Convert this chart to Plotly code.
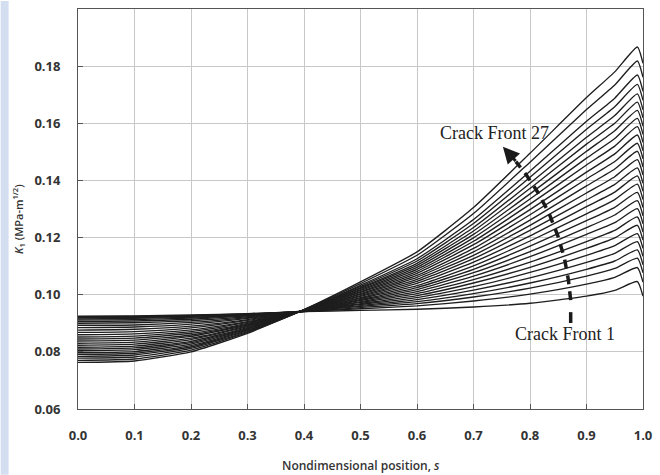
import plotly.graph_objects as go

# Nondimensional positions along the crack front
s_pos = [0.0, 0.1, 0.2, 0.3, 0.4, 0.5, 0.6, 0.7, 0.8, 0.9, 0.95, 0.99, 1.0]

# K1 (MPa-m^1/2) for each crack front
front_01 = [0.0925, 0.0926, 0.0929, 0.0934, 0.0941, 0.0945, 0.0949, 0.0957, 0.0970, 0.0995, 0.1015, 0.1046, 0.0995]
front_02 = [0.0923, 0.0924, 0.0927, 0.0933, 0.0941, 0.0951, 0.0961, 0.0978, 0.1002, 0.1037, 0.1061, 0.1095, 0.1044]
front_03 = [0.0921, 0.0922, 0.0926, 0.0932, 0.0941, 0.0955, 0.0969, 0.0992, 0.1023, 0.1065, 0.1092, 0.1128, 0.1077]
front_04 = [0.0919, 0.0920, 0.0924, 0.0931, 0.0942, 0.0959, 0.0976, 0.1004, 0.1041, 0.1089, 0.1118, 0.1157, 0.1105]
front_05 = [0.0915, 0.0917, 0.0921, 0.0930, 0.0942, 0.0962, 0.0983, 0.1016, 0.1059, 0.1113, 0.1145, 0.1186, 0.1134]
front_06 = [0.0911, 0.0913, 0.0918, 0.0928, 0.0942, 0.0966, 0.0990, 0.1028, 0.1078, 0.1138, 0.1172, 0.1214, 0.1162]
front_07 = [0.0906, 0.0908, 0.0914, 0.0926, 0.0942, 0.0969, 0.0997, 0.1041, 0.1096, 0.1162, 0.1199, 0.1243, 0.1191]
front_08 = [0.0900, 0.0902, 0.0909, 0.0923, 0.0943, 0.0973, 0.1004, 0.1053, 0.1114, 0.1186, 0.1225, 0.1272, 0.1219]
front_09 = [0.0893, 0.0894, 0.0903, 0.0920, 0.0943, 0.0976, 0.1011, 0.1065, 0.1133, 0.1211, 0.1252, 0.1301, 0.1248]
front_10 = [0.0885, 0.0887, 0.0897, 0.0917, 0.0943, 0.0980, 0.1018, 0.1077, 0.1151, 0.1235, 0.1279, 0.1329, 0.1276]
front_11 = [0.0876, 0.0879, 0.0890, 0.0913, 0.0943, 0.0983, 0.1025, 0.1089, 0.1170, 0.1259, 0.1306, 0.1358, 0.1305]
front_12 = [0.0868, 0.0871, 0.0884, 0.0910, 0.0944, 0.0987, 0.1032, 0.1101, 0.1188, 0.1283, 0.1333, 0.1387, 0.1333]
front_13 = [0.0860, 0.0863, 0.0877, 0.0906, 0.0944, 0.0990, 0.1040, 0.1114, 0.1206, 0.1308, 0.1359, 0.1416, 0.1362]
front_14 = [0.0852, 0.0855, 0.0871, 0.0903, 0.0944, 0.0994, 0.1047, 0.1126, 0.1225, 0.1332, 0.1386, 0.1444, 0.1390]
front_15 = [0.0845, 0.0848, 0.0865, 0.0900, 0.0945, 0.0997, 0.1054, 0.1138, 0.1243, 0.1356, 0.1413, 0.1473, 0.1419]
front_16 = [0.0838, 0.0841, 0.0859, 0.0897, 0.0945, 0.1001, 0.1061, 0.1150, 0.1261, 0.1381, 0.1440, 0.1502, 0.1447]
front_17 = [0.0830, 0.0834, 0.0854, 0.0894, 0.0945, 0.1004, 0.1068, 0.1162, 0.1280, 0.1405, 0.1466, 0.1530, 0.1476]
front_18 = [0.0823, 0.0827, 0.0848, 0.0891, 0.0945, 0.1008, 0.1075, 0.1175, 0.1298, 0.1429, 0.1493, 0.1559, 0.1504]
front_19 = [0.0816, 0.0820, 0.0843, 0.0888, 0.0946, 0.1011, 0.1082, 0.1187, 0.1317, 0.1454, 0.1520, 0.1588, 0.1533]
front_20 = [0.0810, 0.0814, 0.0837, 0.0885, 0.0946, 0.1015, 0.1089, 0.1199, 0.1335, 0.1478, 0.1547, 0.1617, 0.1561]
front_21 = [0.0804, 0.0808, 0.0832, 0.0882, 0.0946, 0.1018, 0.1096, 0.1211, 0.1353, 0.1502, 0.1574, 0.1645, 0.1590]
front_22 = [0.0797, 0.0801, 0.0827, 0.0880, 0.0946, 0.1022, 0.1103, 0.1223, 0.1372, 0.1527, 0.1600, 0.1674, 0.1619]
front_23 = [0.0791, 0.0795, 0.0822, 0.0877, 0.0947, 0.1025, 0.1110, 0.1235, 0.1390, 0.1551, 0.1627, 0.1703, 0.1647]
front_24 = [0.0784, 0.0789, 0.0817, 0.0874, 0.0947, 0.1029, 0.1118, 0.1249, 0.1411, 0.1579, 0.1658, 0.1736, 0.1680]
front_25 = [0.0778, 0.0782, 0.0812, 0.0871, 0.0947, 0.1033, 0.1126, 0.1263, 0.1432, 0.1607, 0.1688, 0.1769, 0.1712]
front_26 = [0.0770, 0.0775, 0.0806, 0.0868, 0.0948, 0.1039, 0.1138, 0.1284, 0.1464, 0.1648, 0.1734, 0.1818, 0.1761]
front_27 = [0.0763, 0.0768, 0.0800, 0.0865, 0.0948, 0.1045, 0.1150, 0.1305, 0.1495, 0.1690, 0.1780, 0.1867, 0.1810]

fronts = [front_01, front_02, front_03, front_04, front_05, front_06, front_07, front_08, front_09,
          front_10, front_11, front_12, front_13, front_14, front_15, front_16, front_17, front_18,
          front_19, front_20, front_21, front_22, front_23, front_24, front_25, front_26, front_27]

x_ticks = [0.0, 0.1, 0.2, 0.3, 0.4, 0.5, 0.6, 0.7, 0.8, 0.9, 1.0]
y_ticks = [0.06, 0.08, 0.10, 0.12, 0.14, 0.16, 0.18, 0.20]

fig = go.Figure()
for i, k in enumerate(fronts):
    fig.add_trace(go.Scatter(x=s_pos, y=k, mode="lines", name=f"Crack Front {i+1}",
                             line=dict(color="#1e1e1e", width=1.35, shape="spline", smoothing=0.5),
                             showlegend=False))

tick_font = dict(family="Open Sans", size=13, color="#333333", weight="bold")
axis_common = dict(showgrid=True, gridcolor="#c8c8c8", gridwidth=1, showline=True, linecolor="#555555",
                   linewidth=1, mirror=True, ticks="inside", ticklen=5, tickcolor="#555555",
                   tickfont=tick_font, zeroline=False)

fig.update_xaxes(range=[0, 1], tickvals=x_ticks, tickformat=".1f", ticklabelstandoff=14, **axis_common)
fig.update_yaxes(range=[0.06, 0.20], tickvals=y_ticks, tickformat=".2f", ticklabelstandoff=14, **axis_common)

# dashed curved arrow from Crack Front 1 to Crack Front 27
arrow_path = ("M 0.872,0.0981 L 0.868,0.1051 L 0.861,0.1127 L 0.849,0.1208 "
              "L 0.833,0.1288 L 0.814,0.1358 L 0.793,0.1421 L 0.775,0.1466")
fig.add_shape(type="path", path=arrow_path, xref="x", yref="y",
              line=dict(color="#1a1a1a", width=3.5, dash="9px,7px"))
fig.add_shape(type="line", xref="x", yref="y", x0=0.872, x1=0.872, y0=0.0901, y1=0.0939,
              line=dict(color="#1a1a1a", width=3.5))
fig.add_annotation(x=0.752, y=0.1518, ax=0.777, ay=0.1463, xref="x", yref="y", axref="x", ayref="y",
                   text="", showarrow=True, arrowhead=2, arrowsize=1.1, arrowwidth=3, arrowcolor="#1a1a1a")

fig.add_annotation(x=0.737, y=0.1567, xref="x", yref="y", text="Crack Front 27", showarrow=False,
                   font=dict(family="Liberation Serif", size=18, color="#222222"))
fig.add_annotation(x=0.862, y=0.0862, xref="x", yref="y", text="Crack Front 1", showarrow=False,
                   font=dict(family="Liberation Serif", size=18, color="#222222"))

# axis titles
fig.add_annotation(x=0.5, y=-0.142, xref="paper", yref="paper", xanchor="center", yanchor="middle",
                   text="Nondimensional position, <i>s</i>", showarrow=False,
                   font=dict(family="Open Sans", size=12, color="#333333", weight=600))
fig.add_annotation(x=-0.105, y=0.474, xref="paper", yref="paper", xanchor="center", yanchor="middle",
                   text="<i>K</i><sub>1</sub> (MPa-m<sup>1/2</sup>)", textangle=-90, showarrow=False,
                   font=dict(family="Open Sans", size=11, color="#333333", weight=600))

# light blue strip at the left page edge
fig.add_shape(type="rect", xref="paper", yref="paper", x0=-78/570, x1=-70/570, y0=-66/401, y1=1 + 8/401,
              fillcolor="#d4def1", line=dict(width=0), layer="below")

fig.update_layout(width=660, height=475, margin=dict(l=78, r=12, t=8, b=66),
                  paper_bgcolor="white", plot_bgcolor="white")

fig.write_html("out.html", config={"displayModeBar": False},
               post_script="document.body.style.margin='0';document.body.style.overflow='hidden';")
